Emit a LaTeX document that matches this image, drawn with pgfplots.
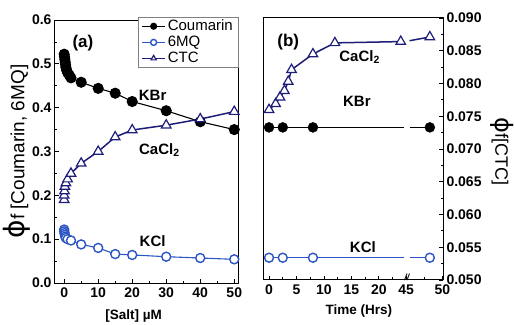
\documentclass[border=0pt]{standalone}
\usepackage{pgfplots}
\pgfplotsset{compat=1.18}
\usepackage{fontspec}
\setmainfont{Liberation Sans}
\newfontfamily\phifont{DejaVu Sans}
\definecolor{mqblue}{RGB}{45,85,195}
\definecolor{ctcnavy}{RGB}{30,30,120}
\begin{document}
\begin{tikzpicture}
\useasboundingbox (0,0) rectangle (514pt,324pt);
\pgfplotsset{
  every axis/.append style={
    scale only axis,
    clip=false,
    tick align=inside,
    major tick length=4pt, minor tick length=2.5pt,
    every tick/.style={black, line width=0.8pt},
    axis line style={line width=1pt},
    tick label style={font=\bfseries\fontsize{14}{14}\selectfont},
    /pgf/number format/assume math mode=true,
    xlabel style={font=\bfseries\fontsize{13.5}{13.5}\selectfont},
  }
}
% ---------------- panel (a) ----------------
\begin{axis}[
  at={(55pt,41pt)}, anchor=south west,
  width=183pt, height=263pt,
  xmin=-2.7, xmax=51.1, ymin=0, ymax=0.6,
  xtick={0,10,20,30,40,50}, minor xtick={5,15,25,35,45},
  ytick={0,0.1,0.2,0.3,0.4,0.5,0.6}, minor ytick={0.05,0.15,0.25,0.35,0.45,0.55},
  xtick pos=left, ytick pos=left,
  scaled y ticks=false,
  yticklabel style={/pgf/number format/fixed, /pgf/number format/fixed zerofill, /pgf/number format/precision=1},
  xticklabel style={yshift=-1pt},
  xlabel={[Salt] µM},
  xlabel style={at={(axis description cs:0.43,-0.125)}, anchor=center},
  legend style={at={(1,1.012)}, anchor=north east, draw=gray, fill=white,
    font=\fontsize{15}{15}\selectfont, inner xsep=3pt, inner ysep=1pt, row sep=0pt},
  legend cell align=left,
  legend image code/.code={
    \draw[#1] (0cm,0cm) -- (0.8cm,0cm);
    \draw[#1, only marks, mark size=3pt] plot coordinates {(0.4cm,0cm)};
  },
]
\addplot[black, line width=1.1pt, mark=*, mark size=5pt]
  coordinates {(0,0.522)(0.1,0.516)(0.2,0.510)(0.3,0.504)(0.4,0.498)(0.5,0.492)(0.7,0.486)(1,0.480)(1.5,0.474)(2,0.468)(5,0.458)(10,0.444)(15,0.433)(20,0.414)(30,0.393)(40,0.368)(50,0.350)};
\addlegendentry{Coumarin}
\addplot[mqblue, line width=1.1pt, mark=*, mark size=4.5pt, mark options={line width=1.4pt, fill=white}]
  coordinates {(0,0.122)(0,0.118)(0.1,0.114)(0.2,0.110)(0.3,0.106)(0.5,0.103)(1,0.100)(2,0.097)(5,0.088)(10,0.080)(15,0.066)(20,0.064)(30,0.060)(40,0.057)(50,0.054)};
\addlegendentry{6MQ}
\addplot[ctcnavy, line width=1.5pt, mark=triangle*, mark size=5.5pt, mark options={line width=1.2pt, fill=white}]
  coordinates {(0,0.190)(0,0.200)(0.1,0.210)(0.2,0.220)(0.5,0.228)(1,0.237)(2,0.250)(5,0.273)(10,0.300)(15,0.333)(20,0.349)(30,0.360)(40,0.374)(50,0.391)};
\addlegendentry{CTC}
\node[font=\bfseries\fontsize{17}{17}\selectfont] at (axis cs:5.5,0.548) {(a)};
\node[font=\bfseries\fontsize{15}{15}\selectfont] at (axis cs:26,0.429) {KBr};
\node[font=\bfseries\fontsize{15}{15}\selectfont] at (axis cs:28,0.303) {CaCl\textsubscript{2}};
\node[font=\bfseries\fontsize{15}{15}\selectfont] at (axis cs:26,0.096) {KCl};
\node[rotate=90] at (rel axis cs:-0.21,0.5) {{\fontsize{28}{28}\selectfont\phifont ϕ}{\fontsize{19}{19}\selectfont f [Coumarin, 6MQ]}};
\end{axis}
% ---------------- panel (b) ----------------
\begin{axis}[
  at={(263pt,44pt)}, anchor=south west,
  width=180pt, height=262pt,
  xmin=-1.1, xmax=31.7, ymin=0.05, ymax=0.09,
  xtick={0,5,10,15,20,25,31.6}, xticklabels={0,5,10,15,20,45,50},
  minor xtick={2.5,7.5,12.5,17.5,22.5,28.3},
  ytick={0.05,0.055,0.06,0.065,0.07,0.075,0.08,0.085,0.09},
  minor ytick={0.0525,0.0575,0.0625,0.0675,0.0725,0.0775,0.0825,0.0875},
  xtick pos=left, ytick pos=right, yticklabel pos=right,
  scaled y ticks=false,
  yticklabel style={/pgf/number format/fixed, /pgf/number format/fixed zerofill, /pgf/number format/precision=3},
  xticklabel style={yshift=-1pt},
  xlabel={Time (Hrs)},
  xlabel style={at={(axis description cs:0.533,-0.118)}, anchor=center},
]
\addplot[black, line width=1.1pt, unbounded coords=jump]
  coordinates {(0,0.0733)(24.6,0.0733)(25,nan)(25.6,0.0733)(29.3,0.0733)};
\addplot[black, only marks, mark=*, mark size=5pt]
  coordinates {(0,0.0733)(2.5,0.0733)(8,0.0733)(29.3,0.0733)};
\addplot[mqblue, line width=1.1pt, unbounded coords=jump]
  coordinates {(0,0.0534)(24.6,0.0534)(25,nan)(25.6,0.0534)(29.3,0.0534)};
\addplot[mqblue, only marks, mark=*, mark size=4.5pt, mark options={line width=1.4pt, fill=white}]
  coordinates {(0,0.0534)(2.5,0.0534)(8,0.0534)(29.3,0.0534)};
\addplot[ctcnavy, line width=1.5pt, unbounded coords=jump]
  coordinates {(0,0.0760)(1.2,0.0769)(2,0.0779)(2.8,0.0789)(3.5,0.0803)(4.1,0.0821)(8,0.0845)(12,0.0862)(24,0.0864)(25,nan)(25.6,0.08653)(29.3,0.0871)};
\addplot[ctcnavy, only marks, mark=triangle*, mark size=5.5pt, mark options={line width=1.2pt, fill=white}]
  coordinates {(0,0.0760)(1.2,0.0769)(2,0.0779)(2.8,0.0789)(3.5,0.0803)(4.1,0.0821)(8,0.0845)(12,0.0862)(24,0.0864)(29.3,0.0871)};
\node[font=\bfseries\fontsize{17}{17}\selectfont] at (axis cs:3.5,0.0863) {(b)};
\node[font=\bfseries\fontsize{15}{15}\selectfont] at (axis cs:16.5,0.0840) {CaCl\textsubscript{2}};
\node[font=\bfseries\fontsize{15}{15}\selectfont] at (axis cs:16,0.0772) {KBr};
\node[font=\bfseries\fontsize{15}{15}\selectfont] at (axis cs:17.1,0.0550) {KCl};
\node[font=\itshape\bfseries\fontsize{9}{9}\selectfont, anchor=south, inner sep=0pt] at (axis cs:25.1,0.0499) {//};
\node[rotate=-90] at (rel axis cs:1.328,0.49) {{\fontsize{24}{24}\selectfont\phifont ϕ}{\fontsize{18}{18}\selectfont f[CTC]}};
\end{axis}
\end{tikzpicture}
\end{document}
